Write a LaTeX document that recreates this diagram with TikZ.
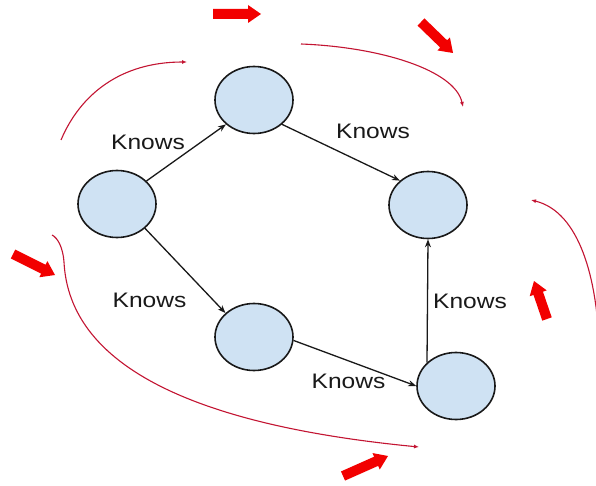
\documentclass[tikz,border=0pt]{standalone}
\usepackage{fontspec}
\setmainfont{Liberation Sans}
\usetikzlibrary{arrows.meta,calc,shapes.geometric}

\definecolor{nodefill}{HTML}{CFE2F3}
\definecolor{flowred}{RGB}{195,20,50}
\definecolor{blockred}{HTML}{F20000}

% edge label, slightly widened
\newcommand\knowslabel{\scalebox{1.17}[1]{Knows}}

% thick block arrow from coordinate #1 to tip coordinate #2
\newcommand\blockarrow[2]{%
  \coordinate (#1-h) at ($(#2)!13pt!(#1)$);
  \fill[blockred]
    ($(#1)!5pt!90:(#2)$) -- ($(#1-h)!5pt!90:(#2)$) -- ($(#1-h)!9pt!90:(#2)$)
    -- (#2)
    -- ($(#1-h)!9pt!-90:(#2)$) -- ($(#1-h)!5pt!-90:(#2)$) -- ($(#1)!5pt!-90:(#2)$)
    -- cycle;
}

\tikzset{
  vertex/.style={ellipse, draw=black!90, line width=1.6pt, fill=nodefill,
    minimum width=78pt, minimum height=67pt, inner sep=0pt},
  knows/.style={draw=black!90, line width=1.3pt, -{Stealth[length=8pt,width=6pt]}},
  lbl/.style={inner sep=0pt, font=\fontsize{21}{24}\selectfont, text=black!90},
  flow/.style={draw=flowred, line width=1.1pt, -{Latex[length=5pt,width=4pt]}}
}

\begin{document}
\begin{tikzpicture}[x=1pt,y=-1pt]
  \fill[white] (0,0) rectangle (596,486);
  \clip (0,0) rectangle (596,486);

  % graph vertices
  \node[vertex] (a) at (117,204) {};
  \node[vertex] (b) at (254,100) {};
  \node[vertex] (c) at (428,205) {};
  \node[vertex] (d) at (254,337) {};
  \node[vertex] (e) at (456,386) {};

  % relationships
  \draw[knows] (a.38) -- (b.221);
  \draw[knows] (b.-41) -- (c.139);
  \draw[knows] (a.-41) -- (d.140);
  \draw[knows] (d.-5) -- (e.180);
  \draw[knows] (e.141) -- (c.south);

  \node[lbl] (lab) at (148,142) {\knowslabel};
  \node[lbl] (lbc) at (373,131) {\knowslabel};
  \node[lbl] (lad) at (149.5,300) {\knowslabel};
  \node[lbl] (lec) at (470,301.5) {\knowslabel};
  \node[lbl] (lde) at (348.5,381.5) {\knowslabel};

  % circulation curves
  \draw[flow] (61,140) .. controls (80,95) and (120,62) .. (187,62);
  \draw[flow] (301,44) .. controls (380,47) and (455,70) .. (463,107);
  \draw[flow] (599,345) .. controls (597,280) and (580,212) .. (531,200);
  \draw[flow] (52,235) .. controls (58,238) and (63,248) .. (64,262)
    .. controls (68,340) and (140,420) .. (419,447);

  % block arrows
  \coordinate (p1) at (213,14);  \coordinate (q1) at (261,14);
  \coordinate (p2) at (421,22);  \coordinate (q2) at (453,53);
  \coordinate (p3) at (13,254);  \coordinate (q3) at (55,275);
  \coordinate (p4) at (547,319); \coordinate (q4) at (534,281);
  \coordinate (p5) at (343,476); \coordinate (q5) at (388,456);
  \blockarrow{p1}{q1}
  \blockarrow{p2}{q2}
  \blockarrow{p3}{q3}
  \blockarrow{p4}{q4}
  \blockarrow{p5}{q5}
\end{tikzpicture}
\end{document}
